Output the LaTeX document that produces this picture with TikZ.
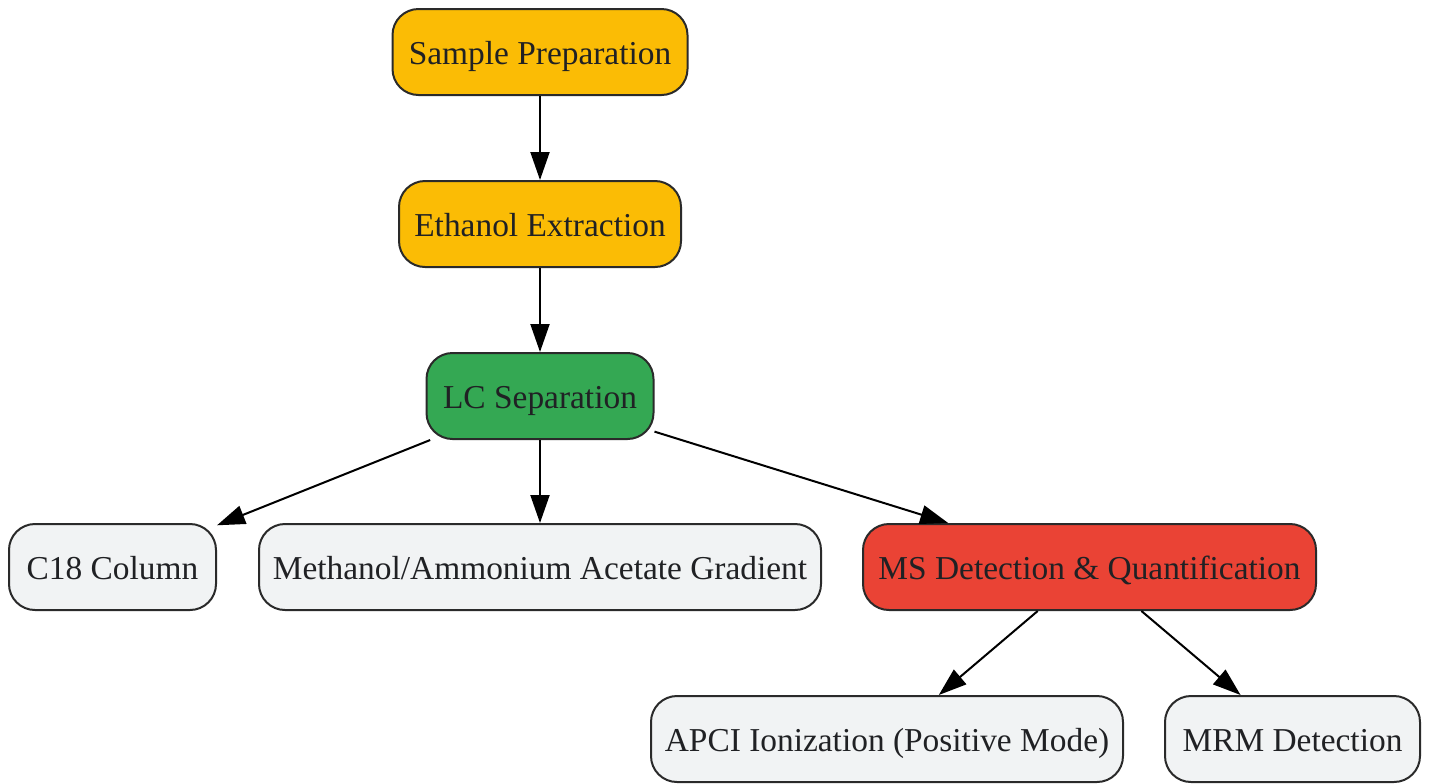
\documentclass[tikz,border=0pt]{standalone}
\usepackage{fontspec}
\setmainfont{Liberation Serif}
\usetikzlibrary{arrows.meta}
\definecolor{gyellow}{HTML}{FBBC05}
\definecolor{ggreen}{HTML}{34A853}
\definecolor{gred}{HTML}{EA4335}
\definecolor{ggray}{HTML}{F1F3F4}
\definecolor{gtext}{HTML}{202124}
\definecolor{gborder}{HTML}{2A2A2A}
\begin{document}
\begin{tikzpicture}[x=0.5pt,y=-0.5pt,
  box/.style={draw=gborder,line width=1pt,rounded corners=13pt,minimum height=43pt,
    inner sep=0pt,text height=12pt,text depth=0pt,text=gtext,font=\fontsize{16.7}{20}\selectfont},
  link/.style={line width=1pt,-{Triangle[length=14pt,width=9.5pt]}}]
\useasboundingbox (0,0) rectangle (1429,783);
\node[box,fill=gyellow,minimum width=147.5pt] (sp) at (540,52) {Sample Preparation};
\node[box,fill=gyellow,minimum width=141pt] (ee) at (540,224) {Ethanol Extraction};
\node[box,fill=ggreen,minimum width=113.5pt] (lc) at (540,396) {LC Separation};
\node[box,fill=ggray,minimum width=103.5pt] (c18) at (112.5,567) {C18 Column};
\node[box,fill=ggray,minimum width=281pt] (mg) at (540,567) {Methanol/Ammonium Acetate Gradient};
\node[box,fill=gred,minimum width=226.5pt] (ms) at (1089.5,567) {MS Detection \& Quantification};
\node[box,fill=ggray,minimum width=236pt] (apci) at (887,739) {APCI Ionization (Positive Mode)};
\node[box,fill=ggray,minimum width=127.5pt] (mrm) at (1292.5,739) {MRM Detection};
\draw[link] (sp) -- (ee);
\draw[link] (ee) -- (lc);
\draw[link] (lc) -- (c18);
\draw[link] (lc) -- (mg);
\draw[link] (lc) -- (ms);
\draw[link] (ms) -- (apci);
\draw[link] (ms) -- (mrm);
\end{tikzpicture}
\end{document}
